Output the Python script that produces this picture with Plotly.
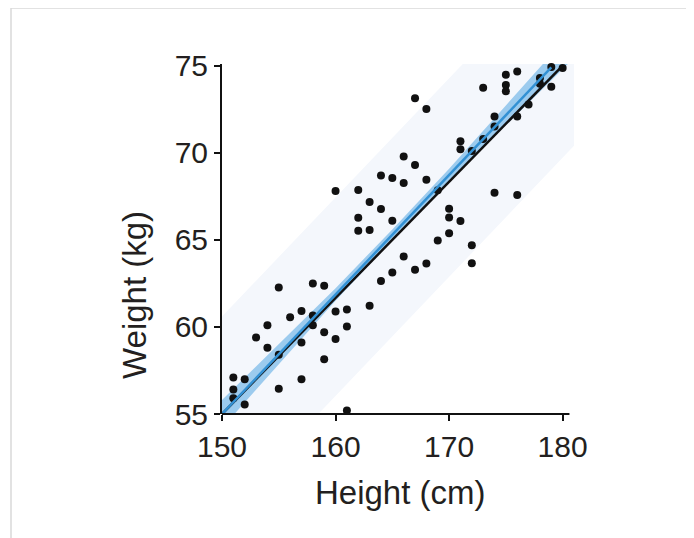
import plotly.graph_objects as go

# ---- data ----
height_cm = [151, 151, 151, 152, 152, 153, 154, 154, 155, 155, 155, 156,
             157, 157, 157, 158, 158, 158, 159, 159, 159, 160, 160, 160,
             161, 161, 161, 162, 162, 162, 163, 163, 163, 164, 164, 164,
             165, 165, 165, 166, 166, 166, 167, 167, 167, 168, 168, 168,
             169, 169, 170, 170, 170, 171, 171, 171, 172, 172, 172, 173,
             173, 174, 174, 174, 175, 175, 175, 176, 176, 176, 177, 178,
             178, 179, 179, 180]
weight_kg = [57.1, 56.4, 55.9, 57.0, 55.55, 59.4, 60.1, 58.8, 62.27, 58.4, 56.45, 60.55,
             60.92, 59.1, 57.0, 62.5, 60.65, 60.1, 62.36, 59.7, 58.15, 67.8, 60.88, 59.3,
             61.0, 60.02, 55.2, 67.87, 66.27, 65.52, 67.17, 65.57, 61.21, 68.7, 66.77, 62.64,
             68.55, 66.1, 63.13, 69.79, 68.26, 64.04, 73.14, 69.3, 63.28, 72.51, 68.45, 63.64,
             67.85, 64.96, 66.79, 66.28, 65.38, 70.67, 70.2, 66.09, 70.1, 64.69, 63.66, 73.73,
             70.8, 72.09, 71.51, 67.7, 74.48, 73.9, 73.53, 74.67, 72.09, 67.57, 72.78, 74.29,
             73.97, 74.93, 73.8, 74.87]

# identity (black) line
ref_x = [150, 180]
ref_y = [55, 75]

# fitted (blue) line
fit_x = [150, 179]
fit_y = [55.0, 74.9]

# confidence band around fit
conf_x = [150, 155, 160, 165, 170, 175, 179, 181]
conf_upper = [55.8, 59.0, 62.22, 65.6, 69.08, 72.72, 75.64, 77.1]
conf_lower = [54.2, 57.86, 61.5, 64.98, 68.36, 71.58, 74.14, 75.45]

# prediction band
pred_x = [150, 181]
pred_upper = [60.6, 81.8]
pred_lower = [49.2, 70.4]

x_ticks = [150, 160, 170, 180]
y_ticks = [55, 60, 65, 70, 75]

FONT = "Liberation Sans, Arial, Helvetica, sans-serif"
TXT = "#231f20"

fig = go.Figure()

fig.add_trace(go.Scatter(x=pred_x + pred_x[::-1], y=pred_upper + pred_lower[::-1],
                         fill="toself", fillcolor="#f4f7fc", line=dict(width=0),
                         mode="lines", hoverinfo="skip", showlegend=False))
fig.add_trace(go.Scatter(x=conf_x + conf_x[::-1], y=conf_upper + conf_lower[::-1],
                         fill="toself", fillcolor="#9ccbee", line=dict(width=0),
                         mode="lines", hoverinfo="skip", showlegend=False))
fig.add_trace(go.Scatter(x=height_cm, y=weight_kg, mode="markers",
                         marker=dict(size=8, color="#111111"),
                         cliponaxis=False, showlegend=False))
fig.add_trace(go.Scatter(x=ref_x, y=ref_y, mode="lines",
                         line=dict(color="#111111", width=2.5), showlegend=False))
fig.add_trace(go.Scatter(x=fit_x, y=fit_y, mode="lines",
                         line=dict(color="#3391d4", width=2.5), showlegend=False))

# page body has an 8px margin; compensate so the visible page matches target pixels
OFF = 8
L, T = 222 - OFF, 64 - OFF
PW, PH = 352, 350
R = 694 - L - PW
B = 538 - T - PH

def px_x(p):
    return (p - OFF - L) / PW

def px_y(p):
    return (T + PH - (p - OFF)) / PH

fig.update_layout(
    width=694, height=538,
    margin=dict(l=L, r=R, t=T, b=B),
    paper_bgcolor="white", plot_bgcolor="rgba(0,0,0,0)",
    font=dict(family=FONT, color=TXT),
    xaxis=dict(range=[150, 181], tickvals=x_ticks, ticks="outside", ticklen=6,
               tickwidth=2, tickcolor="#111", showline=False, showgrid=False,
               zeroline=False, tickfont=dict(size=30, family=FONT, color=TXT)),
    yaxis=dict(range=[55, 75.1], tickvals=y_ticks, ticks="outside", ticklen=6,
               tickwidth=2, tickcolor="#111", showline=True, linecolor="#111",
               linewidth=2, showgrid=False, zeroline=False,
               tickfont=dict(size=30, family=FONT, color=TXT)),
    shapes=[
        dict(type="line", xref="x", yref="paper", x0=149.92, x1=180.6, y0=0, y1=0,
             line=dict(color="#111", width=2)),
        dict(type="rect", xref="paper", yref="paper",
             x0=px_x(11), x1=px_x(689), y0=px_y(570), y1=px_y(8),
             line=dict(color="#d9d9d9", width=1.5), layer="below"),
    ],
    annotations=[
        dict(text="Height (cm)", xref="paper", yref="paper", x=px_x(400), y=px_y(492),
             showarrow=False, font=dict(size=33, family=FONT, color=TXT),
             xanchor="center", yanchor="middle"),
        dict(text="Weight (kg)", xref="paper", yref="paper", x=px_x(134), y=px_y(295),
             showarrow=False, textangle=-90, font=dict(size=33, family=FONT, color=TXT),
             xanchor="center", yanchor="middle"),
    ],
)

fig.write_html("out.html")
